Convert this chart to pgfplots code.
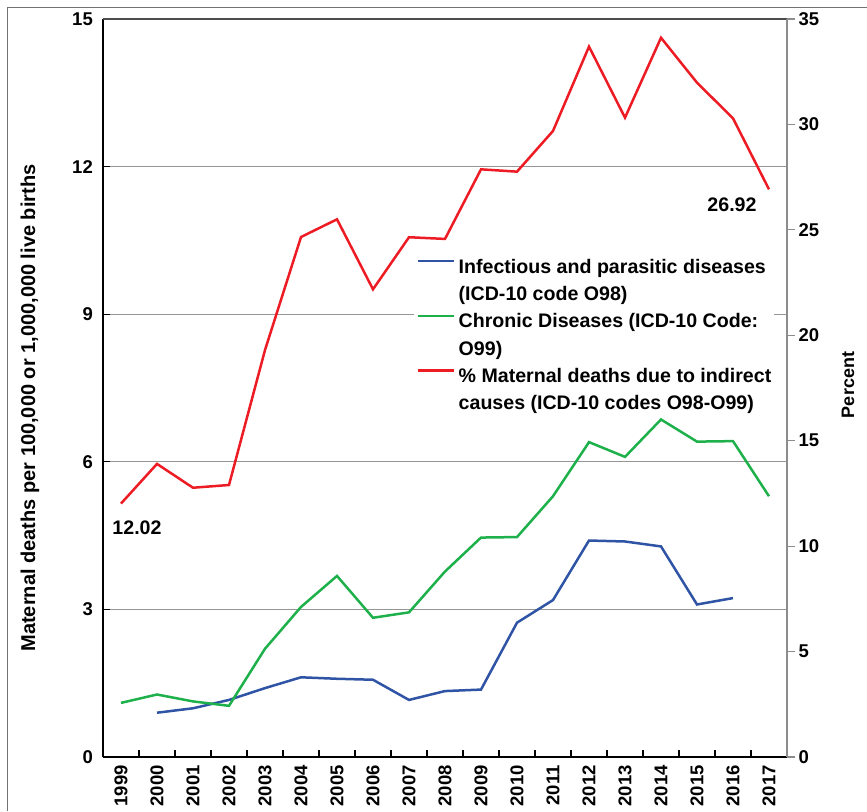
\documentclass[border=0pt]{standalone}
\usepackage{fontspec}
\setmainfont{Liberation Sans}
\usepackage{pgfplots}
\pgfplotsset{compat=1.18}
\definecolor{cblue}{RGB}{47,84,165}
\definecolor{cgreen}{RGB}{30,177,75}
\definecolor{cred}{RGB}{237,28,36}
\definecolor{cgrid}{RGB}{150,150,150}
\newcommand{\tickfont}{\bfseries\fontsize{18.5}{18.5}\selectfont}
\newcommand{\legfont}{\bfseries\fontsize{19.6}{19.6}\selectfont}
\begin{document}
\begin{tikzpicture}
\begin{axis}[
  scale only axis, width=684pt, height=738pt,
  xmin=-0.5, xmax=18.5, ymin=0, ymax=15,
  axis x line*=bottom, axis y line*=left,
  axis line style={black, line width=2pt},
  xtick={0,...,18},
  xticklabels={1999,2000,2001,2002,2003,2004,2005,2006,2007,2008,2009,2010,2011,2012,2013,2014,2015,2016,2017},
  major x tick style={draw=none},
  minor xtick={-0.5,0.5,...,18.5},
  minor tick length=7pt,
  minor x tick style={black, line width=1.2pt},
  tick align=inside,
  ytick={0,3,...,15},
  major tick length=7pt,
  y tick style={black, line width=1.2pt},
  ymajorgrids, grid style={cgrid, line width=1.2pt},
  tick label style={font=\tickfont},
  /pgf/number format/assume math mode=true,
  x tick label style={rotate=90, anchor=east, inner sep=0pt},
  xticklabel shift=8pt,
  y tick label style={inner sep=0pt},
  yticklabel shift=10pt,
  clip=false,
]
\coordinate (O) at (rel axis cs:0,0);
\addplot[cblue, line width=2.5pt] coordinates {
(1,0.90)(2,0.99)(3,1.16)(4,1.40)(5,1.62)(6,1.59)(7,1.57)(8,1.16)(9,1.34)(10,1.37)(11,2.73)(12,3.19)(13,4.40)(14,4.38)(15,4.28)(16,3.10)(17,3.23)};
\addplot[cgreen, line width=2.5pt] coordinates {
(0,1.10)(1,1.27)(2,1.13)(3,1.04)(4,2.20)(5,3.05)(6,3.68)(7,2.83)(8,2.94)(9,3.77)(10,4.46)(11,4.47)(12,5.30)(13,6.40)(14,6.10)(15,6.86)(16,6.41)(17,6.42)(18,5.30)};
\end{axis}
\begin{axis}[
  scale only axis, width=684pt, height=738pt,
  xmin=-0.5, xmax=18.5, ymin=0, ymax=35,
  axis x line*=top, axis y line*=right,
  x axis line style={black!70, line width=1.6pt},
  y axis line style={black!45, line width=1.4pt},
  xtick=\empty,
  ytick={0,5,...,35},
  tick align=outside,
  major tick length=8pt,
  y tick style={black!45, line width=1.2pt},
  tick label style={font=\tickfont},
  /pgf/number format/assume math mode=true,
  legend style={at={(axis description cs:0.4547,0.6775)}, anchor=north west,
    draw=none, fill=white, inner xsep=3pt, inner ysep=2pt,
    font=\legfont, row sep=8.3pt, column sep=3pt,
    nodes={text height=14pt, text depth=5pt, inner sep=0pt},
    cells={anchor=base west}},
  legend cell align=left,
  legend image code/.code={\draw[#1] (0pt,7.5pt) -- (36pt,7.5pt);},
  clip=false,
]
\addlegendimage{cblue, line width=2.5pt}
\addlegendentry{Infectious and parasitic diseases}
\addlegendimage{empty legend}
\addlegendentry{(ICD-10 code O98)}
\addlegendimage{cgreen, line width=2.5pt}
\addlegendentry{Chronic Diseases (ICD-10 Code:}
\addlegendimage{empty legend}
\addlegendentry{O99)}
\addplot[cred, line width=2.5pt] coordinates {
(0,12.02)(1,13.9)(2,12.77)(3,12.9)(4,19.3)(5,24.66)(6,25.5)(7,22.18)(8,24.65)(9,24.57)(10,27.87)(11,27.76)(12,29.69)(13,33.69)(14,30.32)(15,34.11)(16,31.98)(17,30.29)(18,26.92)};
\addlegendentry{\% Maternal deaths due to indirect\hspace{7pt}}
\addlegendimage{empty legend}
\addlegendentry{causes (ICD-10 codes O98-O99)}
\node[font=\legfont, xshift=16pt, yshift=-24pt] at (axis cs:0,12.02) {12.02};
\node[font=\legfont, xshift=-37pt, yshift=-15.5pt] at (axis cs:18,26.92) {26.92};
\end{axis}
\node[rotate=90, font=\bfseries\fontsize{20}{20}\selectfont] at ([shift={(-73pt,349pt)}]O) {Maternal deaths per 100,000 or 1,000,000 live births};
\node[rotate=90, font=\bfseries\fontsize{18}{18}\selectfont] at ([shift={(745pt,372pt)}]O) {Percent};
\draw[black!55, line width=0.8pt] ([shift={(-96pt,-54pt)}]O) -- ([shift={(-96pt,750pt)}]O) -- ([shift={(764pt,750pt)}]O);
\pgfresetboundingbox
\useasboundingbox ([shift={(-103pt,-54pt)}]O) rectangle ([shift={(764pt,757pt)}]O);
\end{tikzpicture}
\end{document}
